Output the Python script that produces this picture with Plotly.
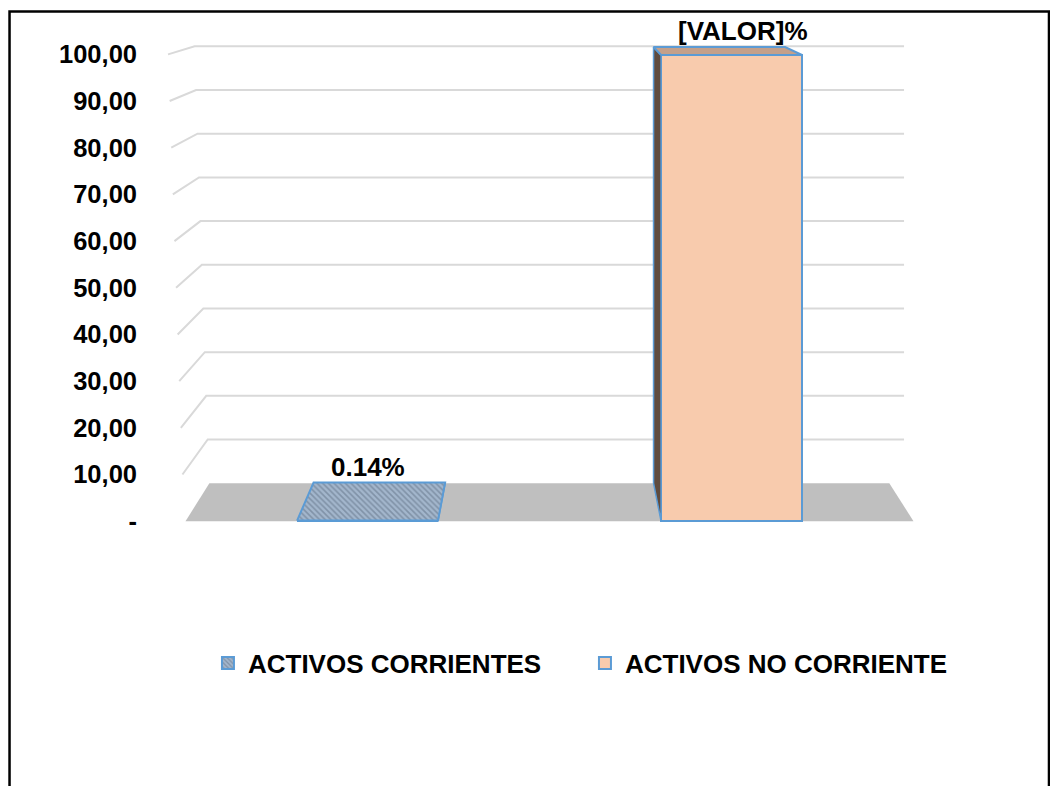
import plotly.graph_objects as go

# ---------------- data ----------------
categories = ["ACTIVOS CORRIENTES", "ACTIVOS NO CORRIENTE"]
values = [0.14, 99.86]
value_labels = ["0.14%", "[VALOR]%"]
tick_vals = [0, 10, 20, 30, 40, 50, 60, 70, 80, 90, 100]
tick_text = ["-", "10,00", "20,00", "30,00", "40,00", "50,00",
             "60,00", "70,00", "80,00", "90,00", "100,00"]

# ---------------- pseudo-3D geometry (style) ----------------
BAR_W = 0.387      # bar width in category units
CX = 0.493         # horizontal vanishing centre
S = 0.934          # depth shrink factor
Y0B = 8.14         # height of back floor edge (front-plane units)
KB = 0.9357        # vertical scale of back plane
WALL_RIGHT = 1.474

def xb(x):
    return CX + S * (x - CX)

def yb(v):
    return Y0B + KB * v

FONT = "Liberation Sans, Arial, sans-serif"
BLUE = "#5b9bd5"
PEACH = "#f8cbad"
PEACH_TOP = "#c4a08a"
PEACH_SIDE = "#5f4b3e"
HATCH_BG = "#a3b6cc"
HATCH_FG = "#5d6e82"
GRID = "#d9d9d9"
FLOOR = "#bfbfbf"

fig = go.Figure()

xs = list(range(len(categories)))

# front faces of bars (bar traces -> legend)
for i, (cat, val) in enumerate(zip(categories, values)):
    if i == 0:
        marker = dict(color=HATCH_BG,
                      pattern=dict(shape="\\", fgcolor=HATCH_FG, bgcolor=HATCH_BG,
                                   size=4, solidity=0.4),
                      line=dict(color=BLUE, width=2))
    else:
        marker = dict(color=PEACH, line=dict(color=BLUE, width=2))
    fig.add_trace(go.Bar(x=[xs[i]], y=[val], width=BAR_W, name=cat,
                         marker=marker, hoverinfo="skip"))

# side and top faces
for i, val in enumerate(values):
    xl = xs[i] - BAR_W / 2
    xr = xs[i] + BAR_W / 2
    hatched = (i == 0)
    top_color = HATCH_BG if hatched else PEACH_TOP
    for xe in (xl, xr):
        if (xe == xl and xb(xe) < xe) or (xe == xr and xb(xe) > xe):
            sx = [xe, xe, xb(xe), xb(xe), xe]
            sy = [0, val, yb(val), yb(0), 0]
            fig.add_trace(go.Scatter(
                x=sx, y=sy, mode="lines", fill="toself",
                fillcolor=HATCH_FG if hatched else PEACH_SIDE,
                line=dict(color=BLUE, width=1.5),
                showlegend=False, hoverinfo="skip"))
    tx = [xl, xr, xb(xr), xb(xl), xl]
    ty = [val, val, yb(val), yb(val), val]
    kw = {}
    if hatched:
        kw["fillpattern"] = dict(shape="\\", fgcolor=HATCH_FG, bgcolor=HATCH_BG,
                                 size=4, solidity=0.4)
    fig.add_trace(go.Scatter(
        x=tx, y=ty, mode="lines", fill="toself", fillcolor=top_color,
        line=dict(color=BLUE, width=2), showlegend=False, hoverinfo="skip", **kw))

# walls: gridlines (back wall + left side wall) and floor, as shapes below traces
shapes = []
for v in tick_vals[1:]:
    xfl = -0.504 - 0.00044 * v
    xbl = -0.435 - 0.0004 * v
    path = f"M {xfl},{v} L {xbl},{yb(v)} L {WALL_RIGHT},{yb(v)}"
    shapes.append(dict(type="path", path=path, xref="x", yref="y",
                       line=dict(color=GRID, width=2), layer="below"))

fx0, fx1 = xs[0] - 0.5, xs[-1] + 0.5
floor = (f"M {fx0},0 L {fx1},0 L {xb(fx1)},{yb(0)} "
         f"L {xb(fx0)},{yb(0)} Z")
shapes.append(dict(type="path", path=floor, xref="x", yref="y",
                   fillcolor=FLOOR, line=dict(width=0), layer="below"))

# chart border
shapes.append(dict(type="rect", xref="paper", yref="paper",
                   x0=-0.1517, x1=1.0123, y0=-0.05, y1=1.0073,
                   line=dict(color="black", width=2.5), fillcolor="rgba(0,0,0,0)",
                   layer="above"))

annotations = []
for i, (val, lab) in enumerate(zip(values, value_labels)):
    annotations.append(dict(x=xs[i], y=yb(val), text=lab, showarrow=False,
                            xref="x", yref="y", yanchor="bottom", yshift=-1,
                            xshift=11 * i,
                            font=dict(family=FONT, size=26, color="black",
                                      weight="bold")))

# page body has an 8px margin: figure is drawn 8px smaller and offset
fig.update_layout(
    width=1050, height=778,
    margin=dict(l=137, r=20, t=8.64, b=8.16),
    paper_bgcolor="white", plot_bgcolor="white",
    shapes=shapes, annotations=annotations,
    showlegend=True,
    legend=dict(orientation="h", x=0.0705, xanchor="left", y=0.1509,
                yanchor="middle", entrywidth=332, bgcolor="rgba(0,0,0,0)",
                font=dict(family=FONT, size=26, color="black", weight="bold")),
    xaxis=dict(range=[-0.6113, 1.8420], visible=False, fixedrange=True),
    yaxis=dict(range=[-55, 108], tickvals=tick_vals, ticktext=tick_text,
               showgrid=False, zeroline=False, showline=False, ticks="",
               ticklabelstandoff=7,
               tickfont=dict(family=FONT, size=25.5, color="black", weight="bold"),
               fixedrange=True),
    bargap=0,
)

fig.write_html("out.html")
